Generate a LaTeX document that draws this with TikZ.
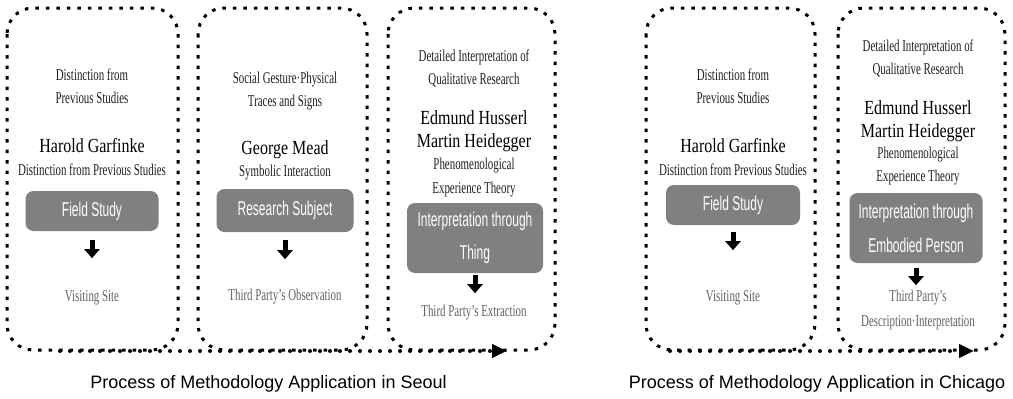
\documentclass[tikz,border=0pt]{standalone}
\usepackage{fontspec}
\setmainfont{Liberation Serif}
\newfontfamily\serc[FakeStretch=0.66]{Liberation Serif}
\newfontfamily\sern[FakeStretch=0.8]{Liberation Serif}
\newfontfamily\sansc[FakeStretch=0.6]{Liberation Sans}
\newfontfamily\capf{Liberation Sans}
\usetikzlibrary{arrows.meta,calc}

\tikzset{
  panel/.style={draw, line width=3pt, dash pattern=on 3.5pt off 7pt, rounded corners=26pt},
  note/.style={align=center, text=black!88, inner sep=0pt, font={\serc\fontsize{16.5}{23}\selectfont}},
  result/.style={note, text=black!62},
  person/.style={align=center, inner sep=0pt, font={\sern\fontsize{20}{23}\selectfont}},
  stage/.style={fill=black!50, rounded corners=8pt, text=white, align=center, inner sep=0pt,
                font={\sansc\fontsize{20}{33}\selectfont}},
  down/.style={line width=5pt, -{Triangle[length=9pt,width=15pt]}},
  flow/.style={line width=4pt, line cap=round, dash pattern=on 0pt off 10pt,
               -{Triangle[length=15pt,width=13pt]}},
  caption/.style={inner sep=0pt, font={\capf\fontsize{18}{20}\selectfont}}
}

\begin{document}
\begin{tikzpicture}[x=1pt, y=-1pt]
\useasboundingbox (0,0) rectangle (1013,399);

% ---------- Seoul ----------
\draw[panel] (7,8) rectangle (178,350);
\draw[panel] (198,8) rectangle (367,350);
\draw[panel] (388,8) rectangle (555,350);

% column 1
\node[note]   (a1) at (92,86.5) {Distinction from\\Previous Studies};
\node[person] (p1) at (92,146) {Harold Garfinke};
\node[note]   (d1) at (92,170) {Distinction from Previous Studies};
\node[stage, minimum width=133pt, minimum height=40pt] (b1) at (92,211) {Field Study};
\node[result] (r1) at (92,298) {Visiting Site};
\draw[down] ($(b1.south)+(0,9)$) -- ($(b1.south)+(0,27)$);

% column 2
\node[note]   (a2) at (285,91) {Social Gesture·Physical\\Traces and Signs};
\node[person] (p2) at (285,150) {George Mead};
\node[note]   (d2) at (285,173) {Symbolic Interaction};
\node[stage, minimum width=137pt, minimum height=43pt] (b2) at (285,210.5) {Research Subject};
\node[result] (r2) at (285,297) {Third Party’s Observation};
\draw[down] ($(b2.south)+(0,8)$) -- ($(b2.south)+(0,27)$);

% column 3
\node[note]   (a3) at (474,69) {Detailed Interpretation of\\Qualitative Research};
\node[person] (p3) at (474,131.5) {Edmund Husserl\\Martin Heidegger};
\node[note, font={\serc\fontsize{16.5}{24}\selectfont}] (d3) at (474,178) {Phenomenological\\Experience Theory};
\node[stage, minimum width=136pt, minimum height=70pt] (b3) at (475,238) {Interpretation through\\Thing};
\node[result] (r3) at (474,313) {Third Party’s Extraction};
\draw[down] ($(b3.south)+(0,2)$) -- ($(b3.south)+(0,20)$);

\coordinate (s0) at (60,351);
\coordinate (s1) at (507,351);
\draw[flow] (s0) -- (s1);
\node[caption] (c1) at (268.5,384) {Process of Methodology Application in Seoul};

% ---------- Chicago ----------
\draw[panel] (646,8) rectangle (815,350);
\draw[panel] (838,8) rectangle (1005,350);

% column 4
\node[note]   (a4) at (733,86.5) {Distinction from\\Previous Studies};
\node[person] (p4) at (733,146) {Harold Garfinke};
\node[note]   (d4) at (733,170) {Distinction from Previous Studies};
\node[stage, minimum width=134pt, minimum height=40pt] (b4) at (733,205) {Field Study};
\node[result] (r4) at (733,298) {Visiting Site};
\draw[down] ($(b4.south)+(0,7)$) -- ($(b4.south)+(0,25)$);

% column 5
\node[note]   (a5) at (918,59) {Detailed Interpretation of\\Qualitative Research};
\node[person] (p5) at (918,121.5) {Edmund Husserl\\Martin Heidegger};
\node[note]   (d5) at (918,166.5) {Phenomenological\\Experience Theory};
\node[stage, minimum width=133pt, minimum height=70pt, font={\sansc\fontsize{20}{34}\selectfont}] (b5) at (916,228) {Interpretation through\\Embodied Person};
\node[result, font={\serc\fontsize{16.5}{25}\selectfont}] (r5) at (918,310.5) {Third Party’s\\Description·Interpretation};
\draw[down] ($(b5.south)+(0,5)$) -- ($(b5.south)+(0,22)$);

\coordinate (t0) at (670,351);
\coordinate (t1) at (974,351);
\draw[flow] (t0) -- (t1);
\node[caption] (c2) at (817,384) {Process of Methodology Application in Chicago};
\end{tikzpicture}
\end{document}
